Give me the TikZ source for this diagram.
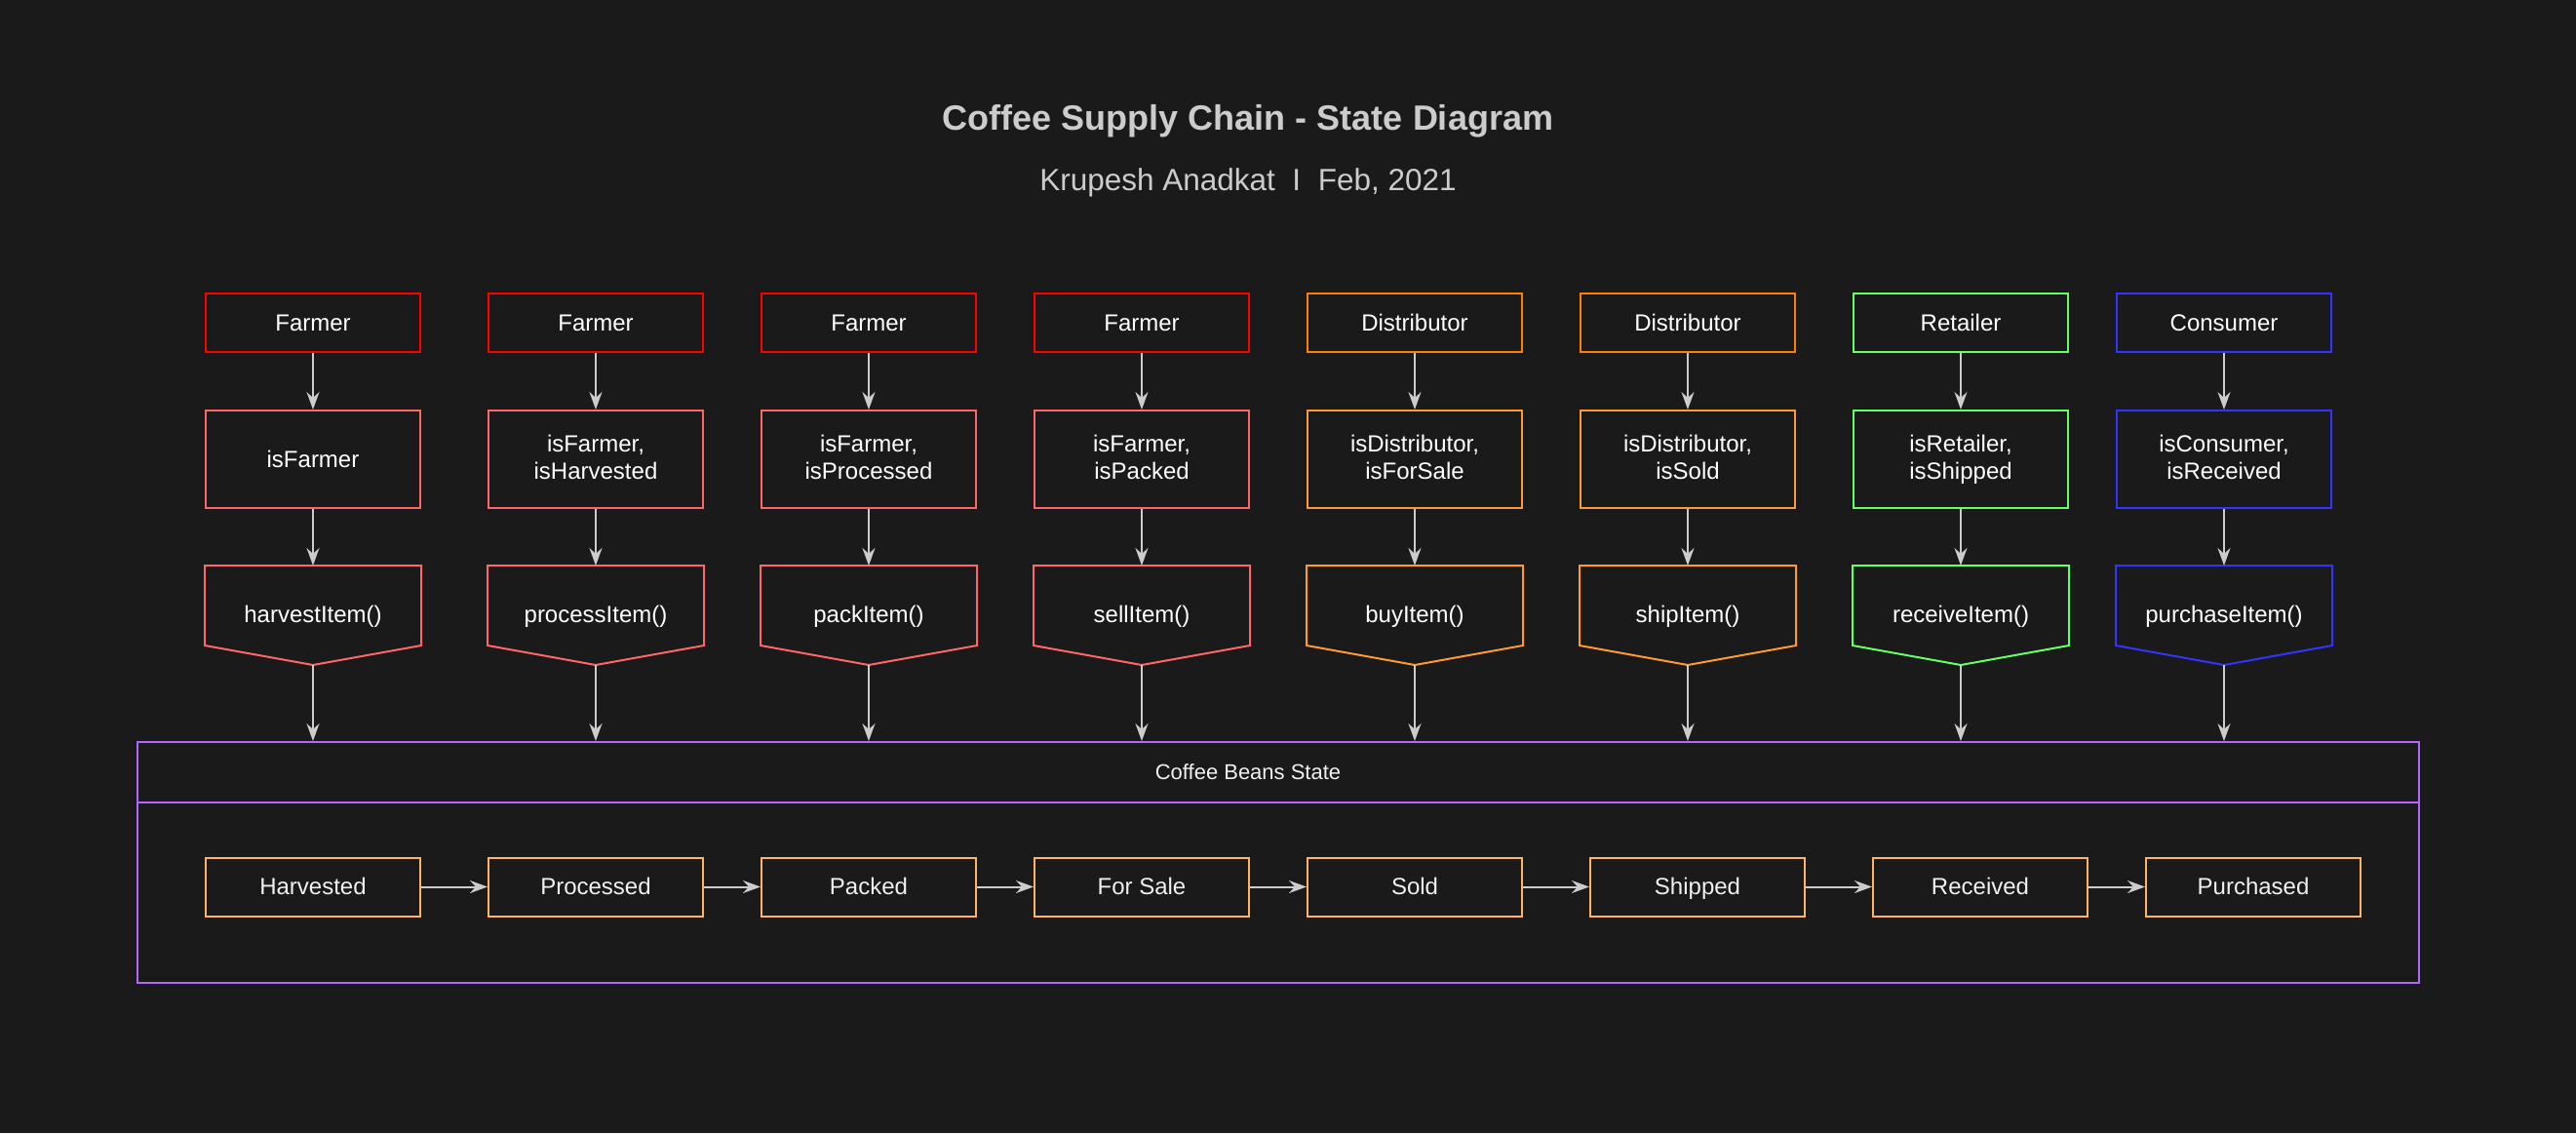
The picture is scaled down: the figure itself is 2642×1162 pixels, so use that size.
\documentclass[tikz,border=0pt]{standalone}
\usepackage{fontspec}
\setmainfont{Liberation Sans}
\usetikzlibrary{arrows.meta,calc}
\definecolor{bgc}{HTML}{1A1A1A}
\definecolor{cred}{HTML}{FF0000}
\definecolor{csalmon}{HTML}{FF6666}
\definecolor{corange}{HTML}{FF8000}
\definecolor{corangeb}{HTML}{FF9933}
\definecolor{cgreen}{HTML}{66FF66}
\definecolor{cblue}{HTML}{3333FF}
\definecolor{cstate}{HTML}{FFB366}
\definecolor{cpurple}{HTML}{B266FF}
\definecolor{carrow}{HTML}{CCCCCC}
\definecolor{ctitle}{HTML}{CCCCCC}
\definecolor{ctext}{HTML}{F0F0F0}
\newcommand\mystrut{\rule[-4pt]{0pt}{24pt}}
\tikzset{
  basebox/.style={line width=2pt, minimum width=220pt, inner sep=0pt, align=center,
    text=white, font=\fontsize{24}{28}\selectfont,
    execute at begin node=\mystrut, execute at end node=\mystrut},
  actor/.style={basebox, draw=#1, minimum height=60pt},
  cond/.style={basebox, draw=#1, minimum height=100pt},
  fnode/.style={basebox, minimum height=100pt},
  statebox/.style={basebox, draw=cstate, minimum height=60pt, text=ctext},
  arr/.style={draw=carrow, line width=2pt, -{Stealth[length=18pt,width=13pt,inset=6pt]}},
  pent/.style={draw=#1, line width=2pt, line join=miter},
}
\begin{document}
\begin{tikzpicture}[x=1pt,y=-1pt]
\fill[bgc] (0,0) rectangle (2642,1162);
\useasboundingbox (0,0) rectangle (2642,1162);

\node[text=ctitle, font=\bfseries\fontsize{36}{42}\selectfont] (title) at (1280,124) {Coffee Supply Chain - State Diagram};
\node[text=ctitle, font=\fontsize{31.5}{36}\selectfont] (subtitle) at (1280,187) {Krupesh Anadkat~~I~~Feb, 2021};

% column data: index/x/actor/actorcolor/rowcolor/cond/func
\foreach \i/\x/\act/\ac/\rc/\cnd/\fn in {
  1/321/Farmer/cred/csalmon/isFarmer/harvestItem(),
  2/611/Farmer/cred/csalmon/{isFarmer,\\isHarvested}/processItem(),
  3/891/Farmer/cred/csalmon/{isFarmer,\\isProcessed}/packItem(),
  4/1171/Farmer/cred/csalmon/{isFarmer,\\isPacked}/sellItem(),
  5/1451/Distributor/corange/corangeb/{isDistributor,\\isForSale}/buyItem(),
  6/1731/Distributor/corange/corangeb/{isDistributor,\\isSold}/shipItem(),
  7/2011/Retailer/cgreen/cgreen/{isRetailer,\\isShipped}/receiveItem(),
  8/2281/Consumer/cblue/cblue/{isConsumer,\\isReceived}/purchaseItem()} {
  \node[actor=\ac] (a\i) at (\x,331) {\act};
  \node[cond=\rc] (c\i) at (\x,471) {\cnd};
  \node[fnode] (f\i) at (\x,631) {\fn};
  \draw[pent=\rc] (f\i.north west) -- (f\i.north east) -- ([yshift=20pt]f\i.south east)
     -- (f\i.south) -- ([yshift=20pt]f\i.south west) -- cycle;
}

% container
\node[draw=cpurple, line width=2pt, minimum width=2340pt, minimum height=247pt, inner sep=0pt] (cont) at (1311,884.5) {};
\coordinate (divl) at (141,823);
\coordinate (divr) at (2481,823);
\draw[cpurple, line width=2pt] (divl) -- (divr);
\node[text=ctext, font=\fontsize{22}{26}\selectfont] (header) at (1280,792) {Coffee Beans State};

\foreach \i in {1,...,8} {
  \draw[arr] (a\i.south) -- (c\i.north);
  \draw[arr] (c\i.south) -- (f\i.north);
  \draw[arr] (f\i.south) -- (f\i.south |- cont.north);
}

% states
\foreach \j/\x/\s in {1/321/Harvested, 2/611/Processed, 3/891/Packed, 4/1171/For Sale,
  5/1451/Sold, 6/1741/Shipped, 7/2031/Received, 8/2311/Purchased} {
  \node[statebox] (s\j) at (\x,909.5) {\s};
}
\foreach \j [evaluate=\j as \k using int(\j+1)] in {1,...,7} {
  \draw[arr] (s\j.east) -- (s\k.west);
}
\end{tikzpicture}
\end{document}
